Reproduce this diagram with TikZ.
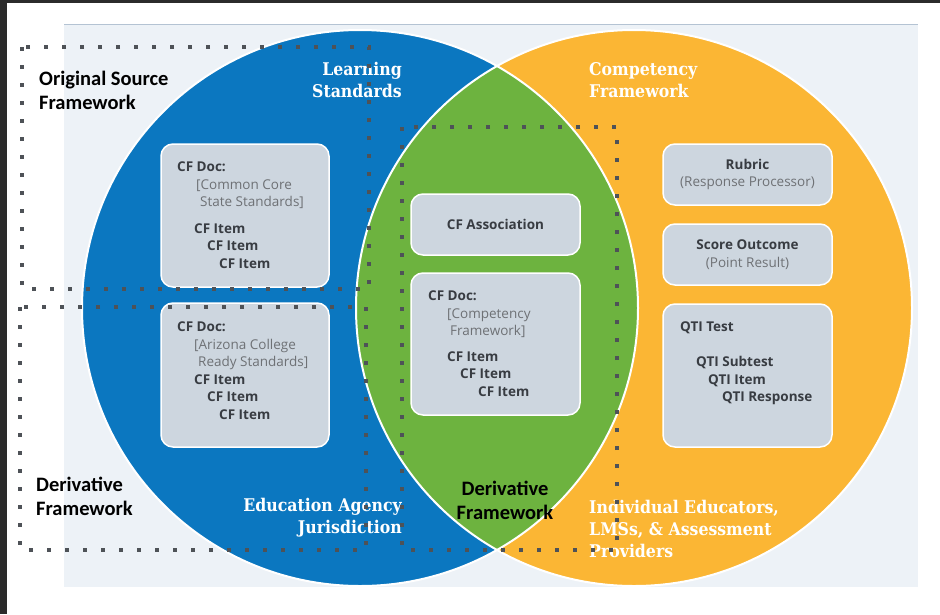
\documentclass[tikz,border=0pt]{standalone}
\usepackage{fontspec}
\setmainfont{Open Sans}
\newfontfamily\calibri{Carlito}
\newfontfamily\slab{DejaVu Serif Condensed}

\definecolor{agencyblue}{HTML}{0B77C0}
\definecolor{compyellow}{HTML}{FBB634}
\definecolor{derivgreen}{HTML}{6DB33F}
\definecolor{panelgray}{HTML}{EDF2F7}
\definecolor{panelline}{HTML}{B4C3D3}
\definecolor{boxgray}{HTML}{CDD6DF}
\definecolor{textdark}{HTML}{383C42}
\definecolor{textlight}{HTML}{6E7175}
\definecolor{dotgray}{HTML}{4E5257}
\definecolor{framedark}{HTML}{2B2B2B}

\newcommand{\boxfont}{\bfseries\fontsize{13.5}{17.5}\selectfont}
\newcommand{\light}[1]{{\color{textlight}\mdseries #1}}

\begin{document}
\begin{tikzpicture}[x=1pt,y=1pt,yscale=-1,
    cfbox/.style={draw=white, line width=1.5pt, fill=boxgray, rounded corners=12pt,
        inner sep=0pt, align=center, text=textdark, font=\boxfont},
    boxtext/.style={anchor=north west, align=left, inner sep=0pt, text=textdark, font=\boxfont},
    ringlabel/.style={text=white, inner sep=0pt, font=\slab\bfseries\fontsize{17.5}{22}\selectfont},
    scopelabel/.style={text=black, inner sep=0pt, font=\calibri\bfseries\fontsize{20.5}{24}\selectfont},
    dotframe/.style={draw=dotgray, line width=3.6pt, dash pattern=on 3.6pt off 14.4pt}]
    \useasboundingbox (0,0) rectangle (940,614);

    % Page, dark edges and the light panel
    \fill[white] (0,0) rectangle (940,614);
    \fill[framedark] (0,0) rectangle (940,3);
    \fill[framedark] (0,0) rectangle (7,614);
    \fill[panelgray] (64,24) rectangle (918,587);
    \draw[panelline, line width=1pt] (64,24) -- (918,24);

    % Define the centres of the two rings
    \coordinate (agencyPos) at (360,308);
    \coordinate (compPos) at (634,308);

    % Draw the rings and the green overlap
    \fill[agencyblue] (agencyPos) circle[radius=278];
    \fill[compyellow] (compPos) circle[radius=278];
    \begin{scope}
        \clip (agencyPos) circle[radius=278];
        \fill[derivgreen] (compPos) circle[radius=278];
    \end{scope}
    \draw[white, line width=2pt] (agencyPos) circle[radius=278];
    \draw[white, line width=2pt] (compPos) circle[radius=278];

    % Ring labels
    \node[ringlabel, anchor=east, align=right] (learnlabel) at (402,80) {Learning\\Standards};
    \node[ringlabel, anchor=west, align=left] (complabel) at (589,80) {Competency\\Framework};
    \node[ringlabel, anchor=east, align=right] (agencylabel) at (402,518) {Education Agency\\Jurisdiction};
    \node[ringlabel, anchor=west, align=left] (userlabel) at (589,529) {Individual Educators,\\LMSs, \& Assessment\\Providers};

    % Framework boxes on the left
    \node[cfbox, minimum width=168pt, minimum height=143pt] (ccss) at (245,215.5) {};
    \node[boxtext] (ccsstext) at (177,162) {CF Doc:\\
        \hspace*{19pt}\light{[Common Core}\\
        \hspace*{23pt}\light{State Standards]}\\[9pt]
        \hspace*{17pt}CF Item\\
        \hspace*{30pt}CF Item\\
        \hspace*{42pt}CF Item};
    \node[cfbox, minimum width=168pt, minimum height=144pt] (acrs) at (245,375) {};
    \node[boxtext] (acrstext) at (177,322) {CF Doc:\\
        \hspace*{17pt}\light{[Arizona College}\\
        \hspace*{21pt}\light{Ready Standards]}\\
        \hspace*{17pt}CF Item\\
        \hspace*{30pt}CF Item\\
        \hspace*{42pt}CF Item};

    % Boxes in the overlap
    \node[cfbox, minimum width=169pt, minimum height=61pt] (assoc) at (495.5,224.5) {CF Association};
    \node[cfbox, minimum width=169pt, minimum height=142pt] (compfw) at (495.5,344) {};
    \node[boxtext] (compfwtext) at (428,291) {CF Doc:\\
        \hspace*{19pt}\light{[Competency}\\
        \hspace*{22pt}\light{Framework]}\\[8pt]
        \hspace*{19pt}CF Item\\
        \hspace*{32pt}CF Item\\
        \hspace*{50pt}CF Item};

    % Boxes on the right
    \node[cfbox, minimum width=169pt, minimum height=61pt] (rubric) at (747.5,174.5) {Rubric\\\light{(Response Processor)}};
    \node[cfbox, minimum width=169pt, minimum height=61pt] (score) at (747.5,254.5) {Score Outcome\\\light{(Point Result)}};
    \node[cfbox, minimum width=169pt, minimum height=143pt] (qti) at (747.5,375.5) {};
    \node[boxtext] (qtitext) at (680,322) {QTI Test\\[17.5pt]
        \hspace*{16pt}QTI Subtest\\
        \hspace*{28pt}QTI Item\\
        \hspace*{42pt}QTI Response};

    % Scope labels
    \node[scopelabel, anchor=west, align=left] (origlabel) at (39,90) {Original Source\\Framework};
    \node[scopelabel, anchor=west, align=left] (derivlabel) at (36,496) {Derivative\\Framework};
    \node[scopelabel, align=center] (lenslabel) at (505,500) {Derivative\\Framework};

    % Draw the dotted scopes
    \draw[dotframe] (22,47) rectangle (369,289);
    \draw[dotframe] (20,307) rectangle (366,550);
    \draw[dotframe] (402,127) rectangle (617,550);
\end{tikzpicture}
\end{document}
